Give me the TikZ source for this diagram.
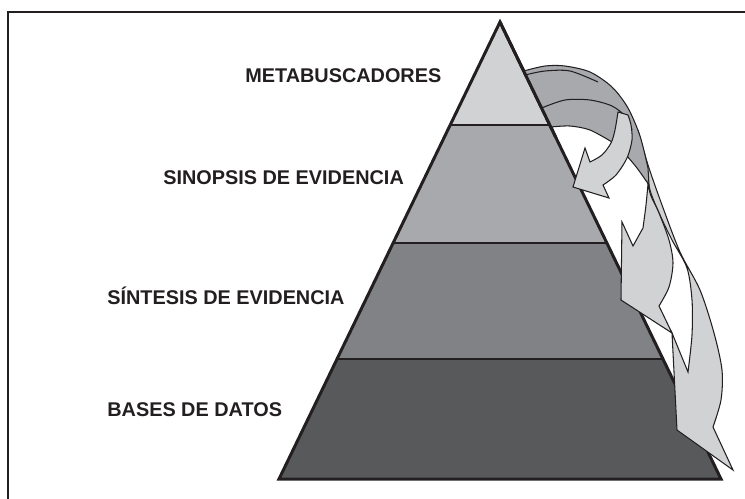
\documentclass[tikz,border=0pt]{standalone}
\usepackage{fontspec}
\setmainfont{Liberation Sans}
\usetikzlibrary{calc}

\definecolor{ink}{HTML}{231F20}
\definecolor{greyA}{HTML}{D1D2D4}
\definecolor{greyB}{HTML}{A7A9AC}
\definecolor{greyC}{HTML}{808285}
\definecolor{greyD}{HTML}{58595B}

\tikzset{
  levelname/.style={font=\fontsize{11.3}{13}\selectfont\bfseries, text=ink, anchor=base west, inner sep=0pt},
  front/.style={fill=greyA, draw=ink, line width=0.6pt},
  back/.style={fill=greyB, draw=ink, line width=0.6pt},
}

\begin{document}
\begin{tikzpicture}[x=0.02cm,y=-0.02cm]

\useasboundingbox (0,0) rectangle (745,498);
\clip (0,0) rectangle (745,498);

% frame
\draw [line width=1.7pt, ink] (8,520) -- (8,12) -- (760,12);

% pyramid
\coordinate (apex) at (500,22);
\coordinate (bl) at (279,479);
\coordinate (br) at (721,479);
\coordinate (l1) at ($(apex)!0.2254!(bl)$);
\coordinate (r1) at ($(apex)!0.2254!(br)$);
\coordinate (l2) at ($(apex)!0.4836!(bl)$);
\coordinate (r2) at ($(apex)!0.4836!(br)$);
\coordinate (l3) at ($(apex)!0.7374!(bl)$);
\coordinate (r3) at ($(apex)!0.7374!(br)$);

\fill [greyA] (apex) -- (l1) -- (r1) -- cycle;
\fill [greyB] (l1) -- (l2) -- (r2) -- (r1) -- cycle;
\fill [greyC] (l2) -- (l3) -- (r3) -- (r2) -- cycle;
\fill [greyD] (l3) -- (bl) -- (br) -- (r3) -- cycle;
\draw [ink, line width=1.2pt] (l1) -- (r1) (l2) -- (r2) (l3) -- (r3);
\draw [ink, line width=1.7pt] (apex) -- (bl) -- (br) -- cycle;

% arrow C (outer)
\filldraw [front] (638,130) -- plot[smooth] coordinates {(638,130) (648,165) (662,205) (680,252) (700,290) (714,333) (722,370) (721,400) (713,427)}
  -- (733,470) -- (677,430) -- (672,333) -- (688,372)
  -- plot[smooth] coordinates {(688,372) (692,335) (692,300) (687,268) (672,240) (660,215) (650,190) (645,160) (638,130)} -- cycle;

% back of the ribbons
\filldraw [back] (523.7,71) -- plot[smooth] coordinates {(523.7,71) (545,66) (565,66) (590,72) (612,87) (628,108) (640,136) (648,168)}
  -- (649,185) -- plot[smooth] coordinates {(649,185) (637,168) (627,156)} -- (612,142)
  -- plot[smooth] coordinates {(612,142) (590,130) (570,126) (550.8,127)} -- cycle;
\draw [ink, line width=0.6pt] plot[smooth] coordinates {(541.6,108) (565,100) (590,100) (612,106) (626,117) (632,130)};
\draw [ink, line width=0.6pt] plot[smooth] coordinates {(525,75) (545,71) (570,71) (598,82)};

% arrow B (middle)
\filldraw [front] (648,184) -- plot[smooth] coordinates {(648,184) (646,205) (643,228)}
  -- (633,246) -- (622,222) -- (621,300) -- (672,333) -- (659,306)
  -- plot[smooth] coordinates {(659,306) (669,287) (673,263) (669,240) (659,213) (651,196) (648,184)} -- cycle;

% arrow A (small)
\filldraw [front] (618,112) -- plot[smooth] coordinates {(618,112) (615,130) (611,143) (602,155) (590,162)}
  -- (585,148) -- (573,187) -- (609,198) -- (603,185)
  -- plot[smooth] coordinates {(603,185) (616,175) (627,158) (632,140) (631,125) (628,115)} -- cycle;

% pyramid edge over the ribbon ends
\draw [ink, line width=1.7pt] (apex) -- ($(apex)!0.25!(br)$);

% levels
\node [levelname] (metab) at (245,82) {METABUSCADORES};
\node [levelname] (sinop) at (163,184) {SINOPSIS DE EVIDENCIA};
\node [levelname] (sintes) at (107,304) {SÍNTESIS DE EVIDENCIA};
\node [levelname] (bases) at (107,416) {BASES DE DATOS};

\end{tikzpicture}
\end{document}
